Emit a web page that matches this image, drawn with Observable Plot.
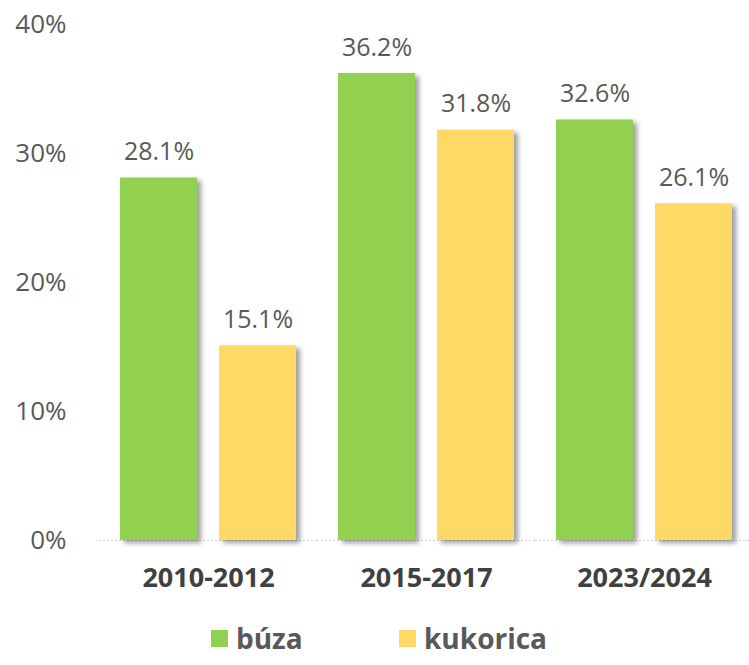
<!DOCTYPE html>
<html>
<head>
<meta charset="utf-8">
<script src="https://cdn.jsdelivr.net/npm/d3@7"></script>
<script src="https://cdn.jsdelivr.net/npm/@observablehq/plot@0.6"></script>
<style>
  body { margin: 0; background: #fff; font-family: "Open Sans", sans-serif; }
  #chart svg g[aria-label="bar"] rect { filter: drop-shadow(4px 3px 2.5px rgba(0,0,0,0.38)); }
  .legend { position: relative; height: 55px; width: 749px; }
  .item { position: absolute; top: 14px; display: flex; align-items: center; font-weight: bold; font-size: 28px; color: #595959; line-height: 1; }
  .sw { width: 17px; height: 17px; margin-right: 8px; }
</style>
</head>
<body>
<div id="chart"></div>
<div class="legend" id="legend"></div>
<script>
const groups = ["2010-2012", "2015-2017", "2023/2024"];
const series = ["búza", "kukorica"];
const buza = [28.1, 36.2, 32.6];
const kukorica = [15.1, 31.8, 26.1];
const colors = ["#92d050", "#ffd966"];
const yTicks = [0, 10, 20, 30, 40];

const data = [];
groups.forEach((g, i) => {
  data.push({group: g, series: series[0], value: buza[i]});
  data.push({group: g, series: series[1], value: kukorica[i]});
});

const chart = Plot.plot({
  width: 749,
  height: 610,
  marginTop: 24,
  marginBottom: 70,
  marginLeft: 98,
  marginRight: 0,
  style: {fontFamily: "Open Sans, sans-serif", background: "#fff"},
  fx: {domain: groups, padding: 0, range: [98, 753]},
  x: {domain: series, paddingInner: 0.22, paddingOuter: 0.21, axis: null},
  y: {domain: [0, 40]},
  color: {domain: series, range: colors},
  marks: [
    Plot.ruleY([0], {stroke: "#d0d0d0", strokeDasharray: "2,2"}),
    Plot.barY(data, {fx: "group", x: "series", y: "value", fill: "series"}),
    Plot.text(data, {fx: "group", x: "series", y: "value", text: d => d.value.toFixed(1) + "%",
      lineAnchor: "bottom", dy: -18, fontSize: 25, fill: "#595959"}),
    Plot.axisY({ticks: yTicks, tickSize: 0, tickPadding: 33, tickFormat: d => d + "%",
      fontSize: 26, fill: "#595959", label: null}),
    Plot.axisFx({anchor: "bottom", tickSize: 0, tickPadding: 27, fontSize: 27,
      fontWeight: "bold", fill: "#404040", label: null})
  ]
});
document.getElementById("chart").appendChild(chart);

const legend = document.getElementById("legend");
const lefts = [211, 399];
series.forEach((s, i) => {
  const it = document.createElement("div");
  it.className = "item";
  it.style.left = lefts[i] + "px";
  it.innerHTML = `<span class="sw" style="background:${colors[i]}"></span><span>${s}</span>`;
  legend.appendChild(it);
});
</script>
</body>
</html>
